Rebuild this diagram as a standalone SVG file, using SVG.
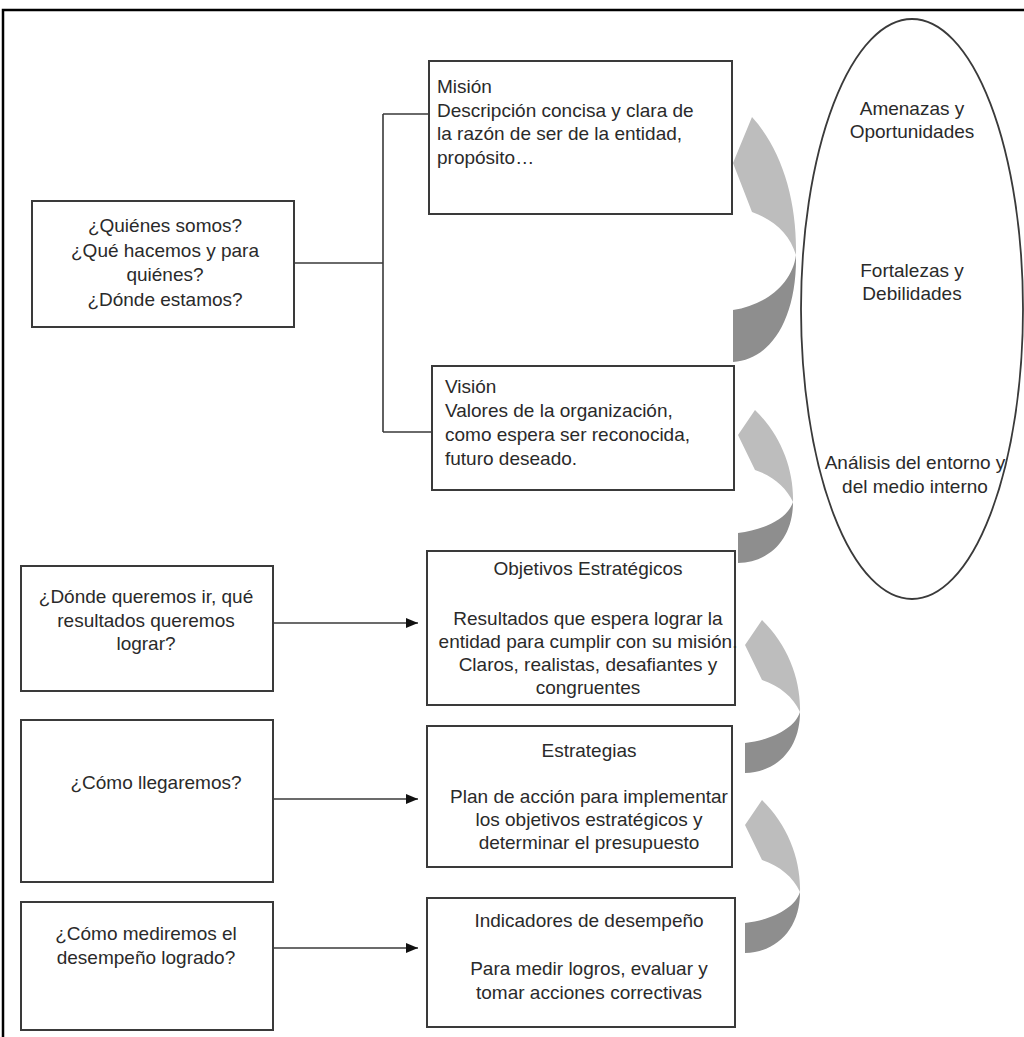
<svg xmlns="http://www.w3.org/2000/svg" width="1024" height="1037" viewBox="0 0 1024 1037">
  <style>
    .box { fill: #ffffff; stroke: #3a3a3a; stroke-width: 2; }
    .txt { font-family: "Liberation Sans", Arial, sans-serif; font-size: 19px; fill: #2a2a2a; }
    .mid { text-anchor: middle; }
    .wire { fill: none; stroke: #3a3a3a; stroke-width: 1.6; }
    .light { fill: #bdbdbd; }
    .dark { fill: #8e8e8e; }
  </style>
  <defs>
    <marker id="head" viewBox="0 0 12 10" refX="12" refY="5" markerWidth="12" markerHeight="10" markerUnits="userSpaceOnUse" orient="auto">
      <path d="M0,0 L12,5 L0,10 Z" fill="#111111"/>
    </marker>
    <!-- small curved return arrow: light front face on top, dark back face at the tail -->
    <g id="curl-small">
      <path class="light" d="M17,0 C43,25 56,60 55,92 C48,77 35,66 17,60 L0,25 Z"/>
      <path class="dark" d="M55,92 C55,128 33,152 0,153 L0,123 C27,120 50,108 55,92 Z"/>
    </g>
  </defs>

  <rect x="0" y="0" width="1024" height="1037" fill="#ffffff"/>

  <!-- outer frame -->
  <path d="M3,1037 V10 H1024" fill="none" stroke="#000000" stroke-width="2.5"/>

  <!-- connectors -->
  <g id="connectors">
    <path class="wire" d="M294,263 H383 M383,114 V432 M383,114 H429 M383,432 H432"/>
    <line class="wire" x1="273" y1="623" x2="418" y2="623" marker-end="url(#head)"/>
    <line class="wire" x1="273" y1="799" x2="418" y2="799" marker-end="url(#head)"/>
    <line class="wire" x1="273" y1="948" x2="418" y2="948" marker-end="url(#head)"/>
  </g>

  <!-- curved return arrows on the right of the column -->
  <g id="curl-arrows">
    <g transform="translate(733,117)">
      <path class="light" d="M19,0 C49,33 64,83 63,138 C57,118 42,103 19,95 L0,46 Z"/>
      <path class="dark" d="M63,138 C64,203 37,243 0,245 L0,193 C32,188 59,168 63,138 Z"/>
    </g>
    <use href="#curl-small" transform="translate(738,410)"/>
    <use href="#curl-small" transform="translate(745,620)"/>
    <use href="#curl-small" transform="translate(745,800)"/>
  </g>

  <!-- environment ellipse -->
  <g id="entorno">
    <ellipse cx="912" cy="309" rx="111" ry="290" fill="none" stroke="#3a3a3a" stroke-width="1.8"/>
    <text class="txt mid" x="912" y="115">Amenazas y</text>
    <text class="txt mid" x="912" y="138">Oportunidades</text>
    <text class="txt mid" x="912" y="277">Fortalezas y</text>
    <text class="txt mid" x="912" y="300">Debilidades</text>
    <text class="txt mid" x="915" y="469">Análisis del entorno y</text>
    <text class="txt mid" x="915" y="493">del medio interno</text>
  </g>

  <g id="quienes">
    <rect class="box" x="32" y="201" width="262" height="126"/>
    <text class="txt mid" x="165" y="232">¿Quiénes somos?</text>
    <text class="txt mid" x="165" y="256.5">¿Qué hacemos y para</text>
    <text class="txt mid" x="165" y="281">quiénes?</text>
    <text class="txt mid" x="165" y="305.5">¿Dónde estamos?</text>
  </g>

  <g id="mision">
    <rect class="box" x="429" y="61" width="303" height="153"/>
    <text class="txt" x="437" y="93">Misión</text>
    <text class="txt" x="437" y="116.5">Descripción concisa y clara de</text>
    <text class="txt" x="437" y="140">la razón de ser de la entidad,</text>
    <text class="txt" x="437" y="163.5">propósito…</text>
  </g>

  <g id="vision">
    <rect class="box" x="432" y="366" width="302" height="124"/>
    <text class="txt" x="445" y="393">Visión</text>
    <text class="txt" x="445" y="417">Valores de la organización,</text>
    <text class="txt" x="445" y="441">como espera ser reconocida,</text>
    <text class="txt" x="445" y="465">futuro deseado.</text>
  </g>

  <g id="donde-ir">
    <rect class="box" x="21" y="566" width="252" height="125"/>
    <text class="txt mid" x="146" y="603">¿Dónde queremos ir, qué</text>
    <text class="txt mid" x="146" y="627">resultados queremos</text>
    <text class="txt mid" x="146" y="650">lograr?</text>
  </g>

  <g id="objetivos">
    <rect class="box" x="427" y="551" width="308" height="154"/>
    <text class="txt mid" x="588" y="575">Objetivos Estratégicos</text>
    <text class="txt mid" x="588" y="625">Resultados que espera lograr la</text>
    <text class="txt mid" x="588" y="648">entidad para cumplir con su misión.</text>
    <text class="txt mid" x="588" y="671">Claros, realistas, desafiantes y</text>
    <text class="txt mid" x="588" y="694">congruentes</text>
  </g>

  <g id="como-llegaremos">
    <rect class="box" x="21" y="720" width="252" height="162"/>
    <text class="txt mid" x="156" y="789">¿Cómo llegaremos?</text>
  </g>

  <g id="estrategias">
    <rect class="box" x="427" y="726" width="305" height="141"/>
    <text class="txt mid" x="589" y="757">Estrategias</text>
    <text class="txt mid" x="589" y="803">Plan de acción para implementar</text>
    <text class="txt mid" x="589" y="826">los objetivos estratégicos y</text>
    <text class="txt mid" x="589" y="849">determinar el presupuesto</text>
  </g>

  <g id="como-mediremos">
    <rect class="box" x="21" y="902" width="252" height="128"/>
    <text class="txt mid" x="146" y="940">¿Cómo mediremos el</text>
    <text class="txt mid" x="146" y="964">desempeño logrado?</text>
  </g>

  <g id="indicadores">
    <rect class="box" x="427" y="898" width="308" height="129"/>
    <text class="txt mid" x="589" y="927">Indicadores de desempeño</text>
    <text class="txt mid" x="589" y="975">Para medir logros, evaluar y</text>
    <text class="txt mid" x="589" y="999">tomar acciones correctivas</text>
  </g>
</svg>
